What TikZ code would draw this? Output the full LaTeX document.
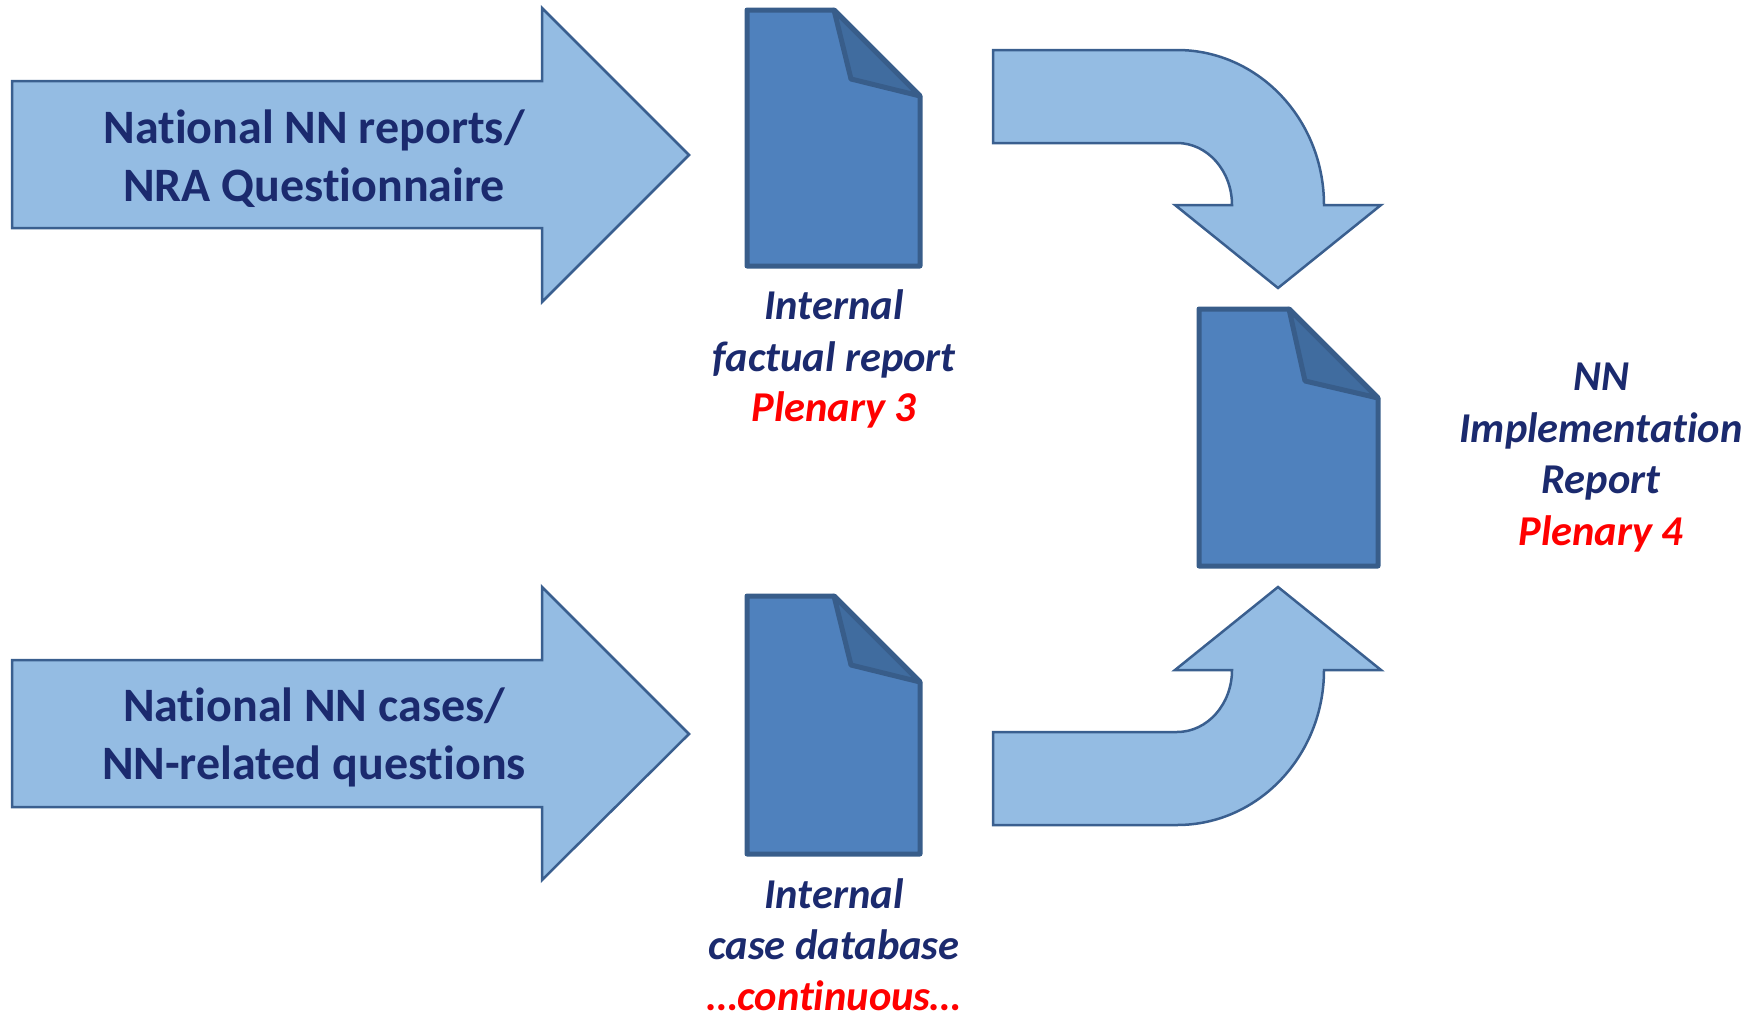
\documentclass[tikz,border=0pt]{standalone}
\usepackage{fontspec}
\setmainfont[Ligatures=NoCommon]{Carlito}
\usepackage{xcolor}
\definecolor{arrowfill}{HTML}{94BCE3}
\definecolor{arrowline}{HTML}{3A5F8F}
\definecolor{docfill}{HTML}{4F81BD}
\definecolor{docline}{HTML}{385D8A}
\definecolor{docfold}{HTML}{406C9F}
\definecolor{navytext}{HTML}{1B2A6E}
\tikzset{
  bigarrow/.style={fill=arrowfill, draw=arrowline, line width=2.5pt, line join=miter},
  docsheet/.style={fill=docfill, draw=docline, line width=5pt, line join=round},
  docflap/.style={fill=docfold, draw=docline, line width=5pt, line join=round},
  arrowlabel/.style={font=\fontsize{48}{58}\selectfont\bfseries, text=navytext, align=center, inner sep=0pt},
  doclabel/.style={font=\fontsize{42.5}{51.5}\selectfont\bfseries\itshape, text=navytext, align=center, inner sep=0pt},
  redlabel/.style={font=\fontsize{42.5}{51.5}\selectfont\bfseries\itshape, text=red, align=center, inner sep=0pt}
}
\begin{document}
\begin{tikzpicture}[x=1pt, y=-1pt]
  \useasboundingbox (0,0) rectangle (1762,1015);
  % straight arrows
  \draw[bigarrow] (12,81) -- (542,81) -- (542,8) -- (689,155) -- (542,302) -- (542,228) -- (12,228) -- cycle;
  \draw[bigarrow] (12,660) -- (542,660) -- (542,587) -- (689,734) -- (542,880) -- (542,807) -- (12,807) -- cycle;
  % bent arrows
  \draw[bigarrow] (993,50) -- (1177,50) arc[start angle=-90, end angle=0, x radius=147, y radius=155] -- (1381,205) -- (1278,288) -- (1175,205) -- (1232,205) arc[start angle=0, end angle=-90, x radius=55, y radius=62] -- (993,143) -- cycle;
  \draw[bigarrow] (993,825) -- (1177,825) arc[start angle=90, end angle=0, x radius=147, y radius=155] -- (1381,670) -- (1278,587) -- (1175,670) -- (1232,670) arc[start angle=0, end angle=90, x radius=55, y radius=62] -- (993,732) -- cycle;
  % documents
  \draw[docsheet] (747,10) -- (834,10) -- (920,96) -- (920,266) -- (747,266) -- cycle;
  \draw[docflap] (834,10) -- (851,79) -- (920,96) -- cycle;
  \draw[docsheet] (747,596) -- (834,596) -- (920,682) -- (920,854) -- (747,854) -- cycle;
  \draw[docflap] (834,596) -- (851,665) -- (920,682) -- cycle;
  \draw[docsheet] (1199,309) -- (1289,309) -- (1378,398) -- (1378,566) -- (1199,566) -- cycle;
  \draw[docflap] (1289,309) -- (1305,381) -- (1378,398) -- cycle;
  % labels
  \node[arrowlabel] (natreports) at (314,158.5) {National NN reports/\\NRA Questionnaire};
  \node[arrowlabel] (natcases) at (314,737.5) {National NN cases/\\NN-related questions};
  \node[doclabel] (factual) at (834,334) {Internal\\factual report};
  \node[redlabel] (plenary3) at (834,410) {Plenary 3};
  \node[doclabel] (casedb) at (834,919) {Internal\\case database};
  \node[redlabel] (continuous) at (834,996) {…continuous…};
  \node[doclabel] (nnreport) at (1601,432) {NN\\Implementation\\Report};
  \node[redlabel] (plenary4) at (1601,534) {Plenary 4};
\end{tikzpicture}
\end{document}
